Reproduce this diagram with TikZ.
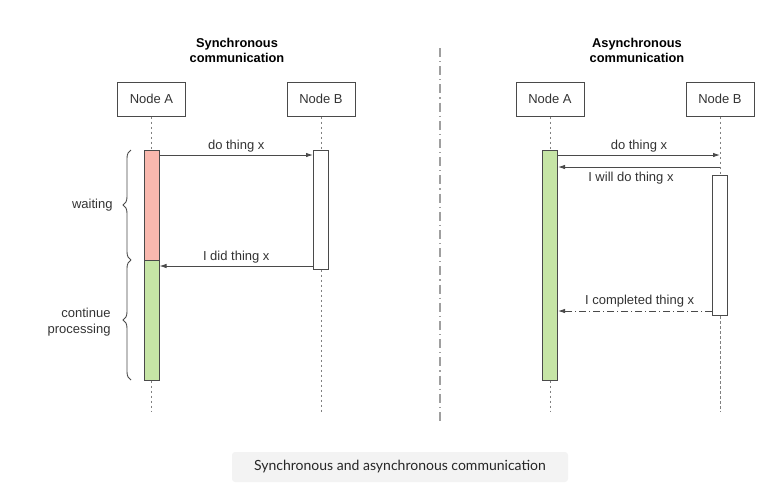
\documentclass[tikz,border=0pt]{standalone}
\usepackage{fontspec}
\setmainfont{Liberation Sans}
\newfontfamily\capfont{Lato}
\usetikzlibrary{arrows.meta,decorations.pathreplacing}
\definecolor{linegray}{HTML}{4A4A4A}
\definecolor{txtgray}{HTML}{333333}
\definecolor{waitred}{HTML}{F9B8AE}
\definecolor{procgreen}{HTML}{C6E5A6}
\definecolor{capbg}{HTML}{F3F3F3}
\tikzset{
  actor/.style={draw=linegray, line width=1pt, minimum width=68pt, minimum height=34pt, inner sep=0pt, font=\fontsize{13}{15}\selectfont, text=txtgray},
  bar/.style={draw=linegray, line width=1pt, minimum width=15pt, inner sep=0pt},
  life/.style={draw=linegray!70, line width=0.9pt, dash pattern=on 2.5pt off 2.5pt},
  msg/.style={draw=linegray, line width=0.9pt, -{Latex[length=7pt,width=4.5pt]}},
  lbl/.style={font=\fontsize{13}{15.5}\selectfont, text=txtgray, inner sep=2pt},
  ttl/.style={font=\bfseries\fontsize{12.8}{15}\selectfont, align=center},
  brc/.style={draw=linegray, line width=0.9pt, decorate, decoration={brace, amplitude=8pt}},
}
\begin{document}
\begin{tikzpicture}[x=1pt,y=-1pt]
\useasboundingbox (0,0) rectangle (766,491);
% ---------- synchronous ----------
\node[ttl] (sT) at (237,50) {Synchronous\\communication};
\node[actor] (sA) at (151.5,99) {Node A};
\node[actor] (sB) at (321,99) {Node B};
\node[bar, fill=waitred, minimum height=110pt] (sAw) at (151.5,205) {};
\node[bar, fill=procgreen, minimum height=120pt] (sAg) at (151.5,320) {};
\node[bar, fill=white, minimum height=119pt] (sBb) at (321,209.5) {};
\coordinate (sAend) at (151.5,412);
\coordinate (sBend) at (321,412);
\coordinate (y155) at (0,155);
\coordinate (y266) at (0,266);
\coordinate (y311) at (0,311);
\draw[life] (sA.south) -- (sAw.north);
\draw[life] (sAg.south) -- (sAend);
\draw[life] (sB.south) -- (sBb.north);
\draw[life] (sBb.south) -- (sBend);
\draw[msg] (sAw.east |- y155) -- node[lbl, above] {do thing x} (sBb.west |- y155);
\draw[msg] (sBb.west |- y266) -- node[lbl, above] {I did thing x} (sAg.east |- y266);
\coordinate (brA1) at (131,260);
\coordinate (brA2) at (131,150);
\coordinate (brB1) at (131,380);
\coordinate (brB2) at (131,260);
\draw[brc] (brA1) -- (brA2) node[midway, left=16pt, lbl] (wt) {waiting};
\draw[brc] (brB1) -- (brB2) node[midway, left=18pt, lbl, align=right, yshift=-2pt] (cp) {continue\\processing};
% ---------- divider ----------
\coordinate (dv1) at (440,48);
\coordinate (dv2) at (440,422);
\draw[draw=gray!75, line width=1.6pt, dash pattern=on 9pt off 4pt on 1.2pt off 4pt] (dv1) -- (dv2);
% ---------- asynchronous ----------
\node[ttl] (aT) at (637,50) {Asynchronous\\communication};
\node[actor] (aA) at (550,99) {Node A};
\node[actor] (aB) at (720,99) {Node B};
\node[bar, fill=procgreen, minimum height=230pt] (aAg) at (550,265) {};
\node[bar, fill=white, minimum height=140pt] (aBb) at (720,245.5) {};
\coordinate (aAend) at (550,412);
\coordinate (aBend) at (720,412);
\coordinate (aB155) at (720,155);
\coordinate (aB167) at (720,167);
\draw[life] (aA.south) -- (aAg.north);
\draw[life] (aAg.south) -- (aAend);
\draw[life] (aB.south) -- (aBb.north);
\draw[life] (aBb.south) -- (aBend);
\draw[msg] (aAg.east |- aB155) -- node[lbl, above] {do thing x} (aB155);
\draw[msg] (aB167) -- node[lbl, below=3pt, pos=0.55] {I will do thing x} (aAg.east |- aB167);
\draw[msg, dash pattern=on 7pt off 3pt on 1pt off 3pt] (aBb.west |- y311) -- node[lbl, above, pos=0.47, yshift=1pt] {I completed thing x} (aAg.east |- y311);
% ---------- caption ----------
\node[fill=capbg, rounded corners=3pt, minimum width=336pt, minimum height=30pt, inner sep=0pt, font=\capfont\fontsize{14}{16}\selectfont, text=black!85] (cap) at (400,467) {Synchronous and asynchronous communication};
\end{tikzpicture}
\end{document}
